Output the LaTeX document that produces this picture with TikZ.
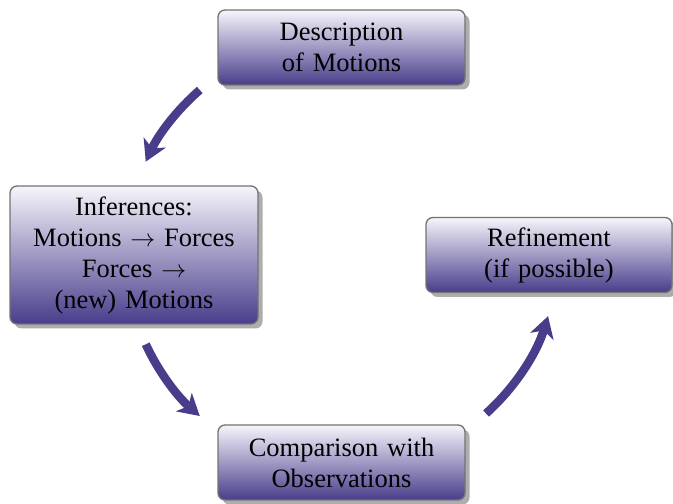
\documentclass[tikz,border=0pt]{standalone}
\usepackage{fontspec}
\setmainfont{Liberation Serif}
\usetikzlibrary{arrows.meta,shadows,shadings}
\definecolor{boxtop}{RGB}{246,245,251}
\definecolor{boxbot}{RGB}{72,61,139}
\definecolor{arrowcol}{RGB}{72,61,139}
\definecolor{boxline}{RGB}{115,115,115}
\tikzset{
  stagebox/.style={rectangle, rounded corners=7pt, draw=boxline, line width=1.3pt,
    top color=boxtop, bottom color=boxbot, minimum height=75pt, text width=240pt,
    align=center, inner sep=0pt, font=\fontsize{26.5}{31}\selectfont,
    drop shadow={shadow xshift=4.5pt, shadow yshift=-4.5pt, fill=black!40, opacity=0.8}},
  cyclearrow/.style={draw=arrowcol, line width=8.5pt,
    -{Stealth[length=21pt, width=24pt, inset=6pt]}}
}
\begin{document}
\begin{tikzpicture}[x=1pt,y=1pt]
\useasboundingbox (0,0) rectangle (673,504);
\node[stagebox, minimum width=247pt] (desc) at (341.5,456.5) {Description\\of Motions};
\node[stagebox, minimum width=248pt, minimum height=138pt] (inf) at (134,249) {Inferences:\\Motions $\rightarrow$ Forces\\Forces $\rightarrow$\\(new) Motions};
\node[stagebox, minimum width=246pt] (ref) at (549,249) {Refinement\\(if possible)};
\node[stagebox, minimum width=247pt] (comp) at (341.5,41.5) {Comparison with\\Observations};
\coordinate (ctr) at (341.5,251);
\draw[cyclearrow] ([shift={(131:216)}]ctr) arc[start angle=131, end angle=155, radius=216];
\draw[cyclearrow] ([shift={(205:216)}]ctr) arc[start angle=205, end angle=229, radius=216];
\draw[cyclearrow] ([shift={(312:216)}]ctr) arc[start angle=312, end angle=343, radius=216];
\end{tikzpicture}
\end{document}
